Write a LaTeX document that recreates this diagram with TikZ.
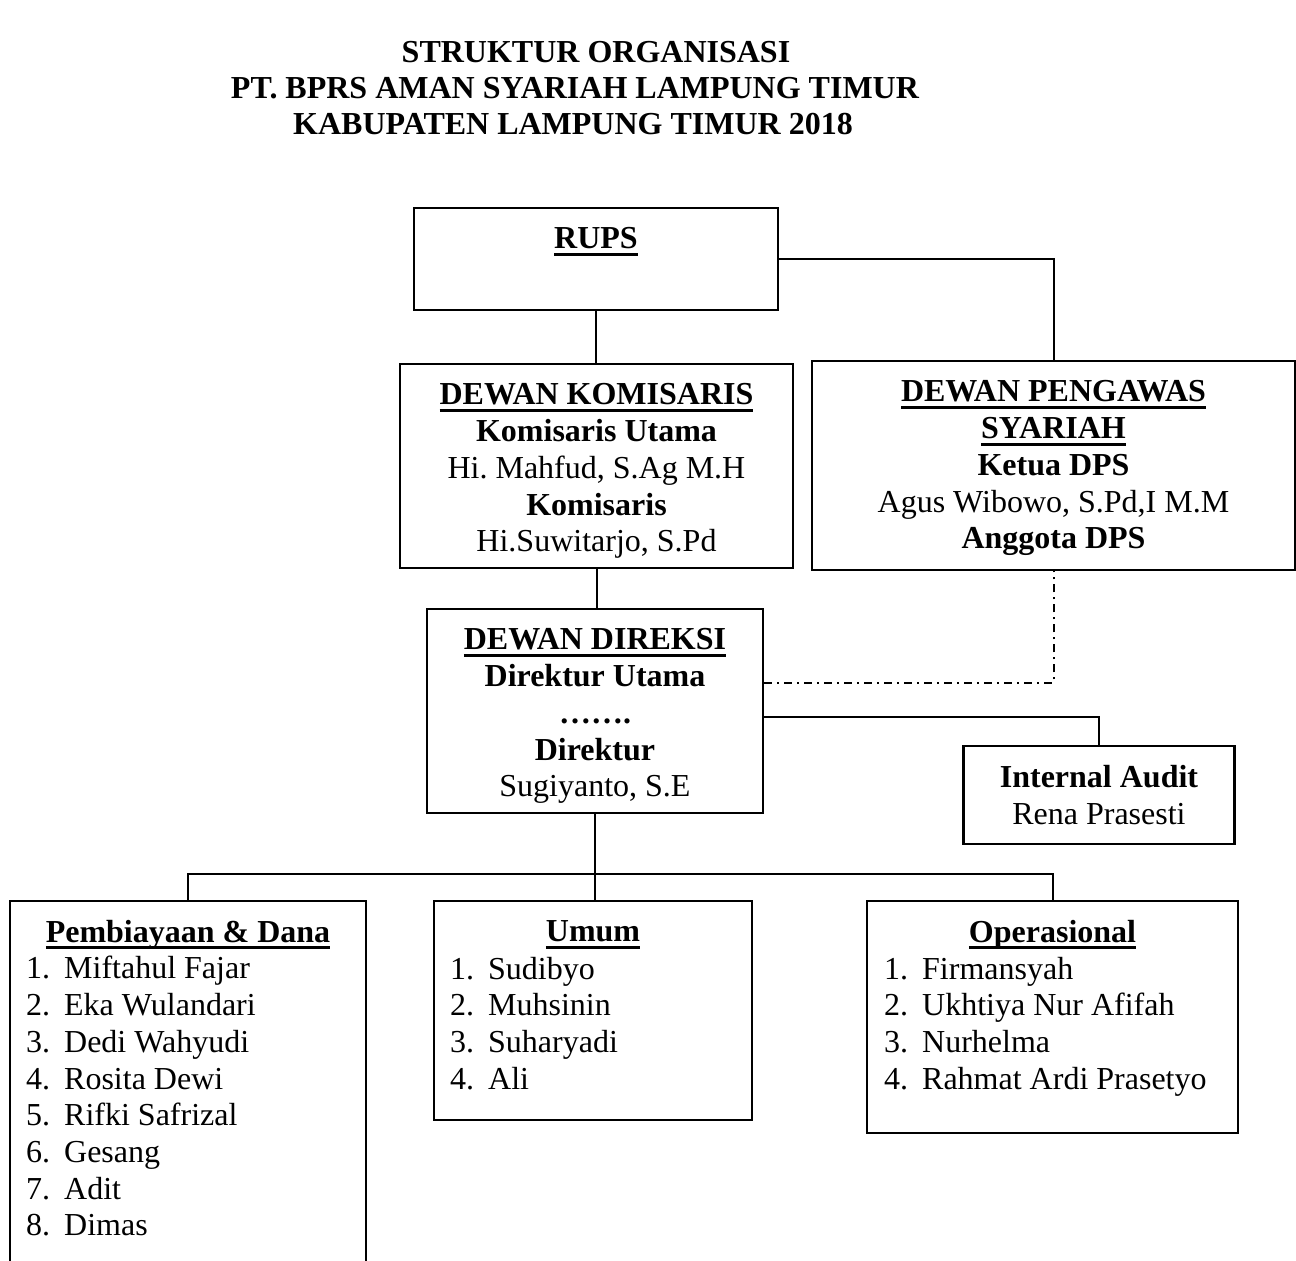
\documentclass[tikz,border=0pt]{standalone}
\usepackage{fontspec}
\setmainfont{Liberation Serif}
\usetikzlibrary{positioning}
\frenchspacing

\newsavebox\headbox
\newcommand\uhead[1]{\sbox\headbox{\bfseries #1}\rlap{\rule[-3.5pt]{\wd\headbox}{1.5pt}}\usebox\headbox}
\newcommand\nr[1]{\makebox[19pt][l]{#1}}

\begin{document}
\begin{tikzpicture}[
        x=0.5pt, y=-0.5pt,
        box/.style={draw, line width=1.2pt, inner sep=0pt},
        txt/.style={inner sep=0pt, align=center, font=\fontsize{16}{18.35}\selectfont},
        lst/.style={txt, align=left},
        link/.style={line width=1pt},
        dpslink/.style={link, dash pattern=on 4pt off 2.5pt on 1pt off 2.5pt}
    ]
    \useasboundingbox (0,0) rectangle (1296,1261);

    % judul
    \node[txt, font=\fontsize{16}{18.35}\selectfont\bfseries, anchor=base] (title1) at (596,63) {STRUKTUR ORGANISASI};
    \node[txt, font=\fontsize{16}{18.35}\selectfont\bfseries, anchor=base] (title2) at (575,99) {PT. BPRS AMAN SYARIAH LAMPUNG TIMUR};
    \node[txt, font=\fontsize{16}{18.35}\selectfont\bfseries, anchor=base] (title3) at (573,135) {KABUPATEN LAMPUNG TIMUR 2018};

    % kotak
    \node[box, minimum width=182pt, minimum height=51pt] (rups) at (596,259) {};
    \node[box, minimum width=196.5pt, minimum height=102pt] (dk) at (596.5,466) {};
    \node[box, minimum width=241.5pt, minimum height=104.5pt] (dps) at (1053.5,465.5) {};
    \node[box, minimum width=168pt, minimum height=102pt] (dd) at (595,711) {};
    \node[box, minimum width=135.5pt, minimum height=49pt] (ia) at (1099,795) {};
    \node[box, minimum width=178pt, minimum height=199.5pt] (pd) at (188,1100.5) {};
    \node[box, minimum width=159pt, minimum height=109.5pt] (um) at (593,1010.5) {};
    \node[box, minimum width=185.5pt, minimum height=116pt] (op) at (1052.5,1017) {};

    % isi kotak
    \node[txt, below=10.3pt of rups.north] (rupstxt) {\uhead{RUPS}};
    \node[txt, below=10.3pt of dk.north] (dktxt) {\uhead{DEWAN KOMISARIS}\\\textbf{Komisaris Utama}\\Hi. Mahfud, S.Ag M.H\\\textbf{Komisaris}\\Hi.Suwitarjo, S.Pd};
    \node[txt, below=10.3pt of dps.north] (dpstxt) {\uhead{DEWAN PENGAWAS}\\\uhead{SYARIAH}\\\textbf{Ketua DPS}\\Agus Wibowo, S.Pd,I M.M\\\textbf{Anggota DPS}};
    \node[txt, below=10.3pt of dd.north] (ddtxt) {\uhead{DEWAN DIREKSI}\\\textbf{Direktur Utama}\\\textbf{…….}\\\textbf{Direktur}\\Sugiyanto, S.E};
    \node[txt, below=10pt of ia.north] (iatxt) {\textbf{Internal Audit}\\Rena Prasesti};

    \node[txt, below=10pt of pd.north] (pdhead) {\uhead{Pembiayaan \& Dana}};
    \node[lst, below right=28.1pt and 8.5pt of pd.north west] (pdlist) {\nr{1.}Miftahul Fajar\\\nr{2.}Eka Wulandari\\\nr{3.}Dedi Wahyudi\\\nr{4.}Rosita Dewi\\\nr{5.}Rifki Safrizal\\\nr{6.}Gesang\\\nr{7.}Adit\\\nr{8.}Dimas};
    \node[txt, below=10.4pt of um.north] (umhead) {\uhead{Umum}};
    \node[lst, below right=28.4pt and 8.5pt of um.north west] (umlist) {\nr{1.}Sudibyo\\\nr{2.}Muhsinin\\\nr{3.}Suharyadi\\\nr{4.}Ali};
    \node[txt, below=10pt of op.north] (ophead) {\uhead{Operasional}};
    \node[lst, below right=28.4pt and 9pt of op.north west] (oplist) {\nr{1.}Firmansyah\\\nr{2.}Ukhtiya Nur Afifah\\\nr{3.}Nurhelma\\\nr{4.}Rahmat Ardi Prasetyo};

    % garis
    \draw[link] (rups.south) -- (rups.south |- dk.north);
    \draw[link] (rups.east) -| (dps.north);
    \draw[link] (dk.south) -- (dk.south |- dd.north);
    \draw[dpslink] ([yshift=14pt]dd.east) -| (dps.south);
    \draw[link] ([yshift=-3pt]dd.east) -| (ia.north);
    \draw[link] (dd.south) -- ++(0,60) coordinate (bus);
    \draw[link] (pd.north) |- (bus) -| (op.north);
    \draw[link] (bus) -- (bus |- um.north);

\end{tikzpicture}
\end{document}
